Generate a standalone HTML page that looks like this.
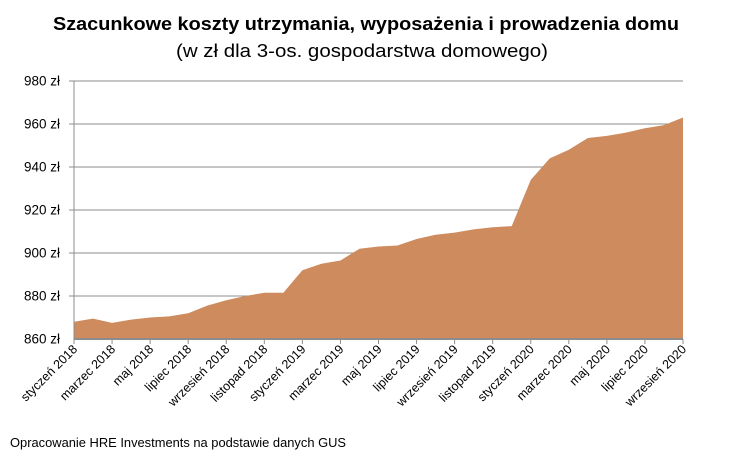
<!DOCTYPE html>
<html><head><meta charset="utf-8"><style>
body{margin:0;background:#fff;width:732px;height:459px;overflow:hidden;font-family:"Liberation Sans",sans-serif}
svg{display:block}
</style></head><body>
<svg id="c" width="732" height="459">
<text x="366" y="30" text-anchor="middle" font-size="18.5" font-weight="bold" textLength="626" lengthAdjust="spacingAndGlyphs">Szacunkowe koszty utrzymania, wyposażenia i prowadzenia domu</text>
<text x="362" y="57" text-anchor="middle" font-size="18.5" textLength="372" lengthAdjust="spacingAndGlyphs">(w zł dla 3-os. gospodarstwa domowego)</text>
<text x="10" y="447" font-size="12.5" textLength="336" lengthAdjust="spacingAndGlyphs">Opracowanie HRE Investments na podstawie danych GUS</text>
<g id="grid"></g><path id="area" fill="#cd8b5e"></path><g id="axes"></g>
</svg>
<script>
const months=["styczeń 2018","luty 2018","marzec 2018","kwiecień 2018","maj 2018","czerwiec 2018","lipiec 2018","sierpień 2018","wrzesień 2018","październik 2018","listopad 2018","grudzień 2018","styczeń 2019","luty 2019","marzec 2019","kwiecień 2019","maj 2019","czerwiec 2019","lipiec 2019","sierpień 2019","wrzesień 2019","październik 2019","listopad 2019","grudzień 2019","styczeń 2020","luty 2020","marzec 2020","kwiecień 2020","maj 2020","czerwiec 2020","lipiec 2020","sierpień 2020","wrzesień 2020"];
const costs=[868,869.5,867.5,869,870,870.5,872,875.5,878,880,881.5,881.5,892,895,896.5,902,903,903.5,906.5,908.5,909.5,911,912,912.5,934,944,948,953.5,954.5,956,958,959.5,963];
const yTicks=[860,880,900,920,940,960,980];
const NS="http://www.w3.org/2000/svg";
const x0=74,x1=683,yb=339,yt=81,vmin=860,vmax=980;
const X=i=>x0+(x1-x0)*i/(months.length-1);
const Y=v=>yb-(v-vmin)/(vmax-vmin)*(yb-yt);
function mk(t,a,p){const e=document.createElementNS(NS,t);for(const k in a)e.setAttribute(k,a[k]);p.appendChild(e);return e;}
const grid=document.getElementById('grid'),axes=document.getElementById('axes');
yTicks.forEach(v=>{
 if(v>vmin){const l=mk('line',{x1:69,x2:x1,y1:Y(v),y2:Y(v),stroke:'#8c8c8c','stroke-width':1},grid);
 
 }
 const t=mk('text',{x:60,y:Y(v)+4.5,'text-anchor':'end','font-size':13.5},axes);t.textContent=v+' zł';
 
 
});
let d='M'+X(0)+','+yb;costs.forEach((v,i)=>d+=' L'+X(i)+','+Y(v));d+=' L'+X(costs.length-1)+','+yb+' Z';
document.getElementById('area').setAttribute('d',d);
const ya=mk('line',{x1:x0,x2:x0,y1:yt,y2:yb,stroke:'#8c8c8c'},axes);


const xa=mk('line',{x1:x0,x2:x1,y1:yb,y2:yb,stroke:'#8c8c8c','stroke-width':2},axes);


months.forEach((m,i)=>{
 if(i%2)return;
 const tk=mk('line',{x1:X(i),x2:X(i),y1:yb,y2:yb+5,stroke:'#8c8c8c'},axes);
 
 
 const t=mk('text',{x:X(i)+4,y:yb+11,'text-anchor':'end','font-size':12.5,transform:`rotate(-45 ${X(i)+4} ${yb+11})`},axes);
 t.textContent=m;
 
 
});
</script>
</body></html>
